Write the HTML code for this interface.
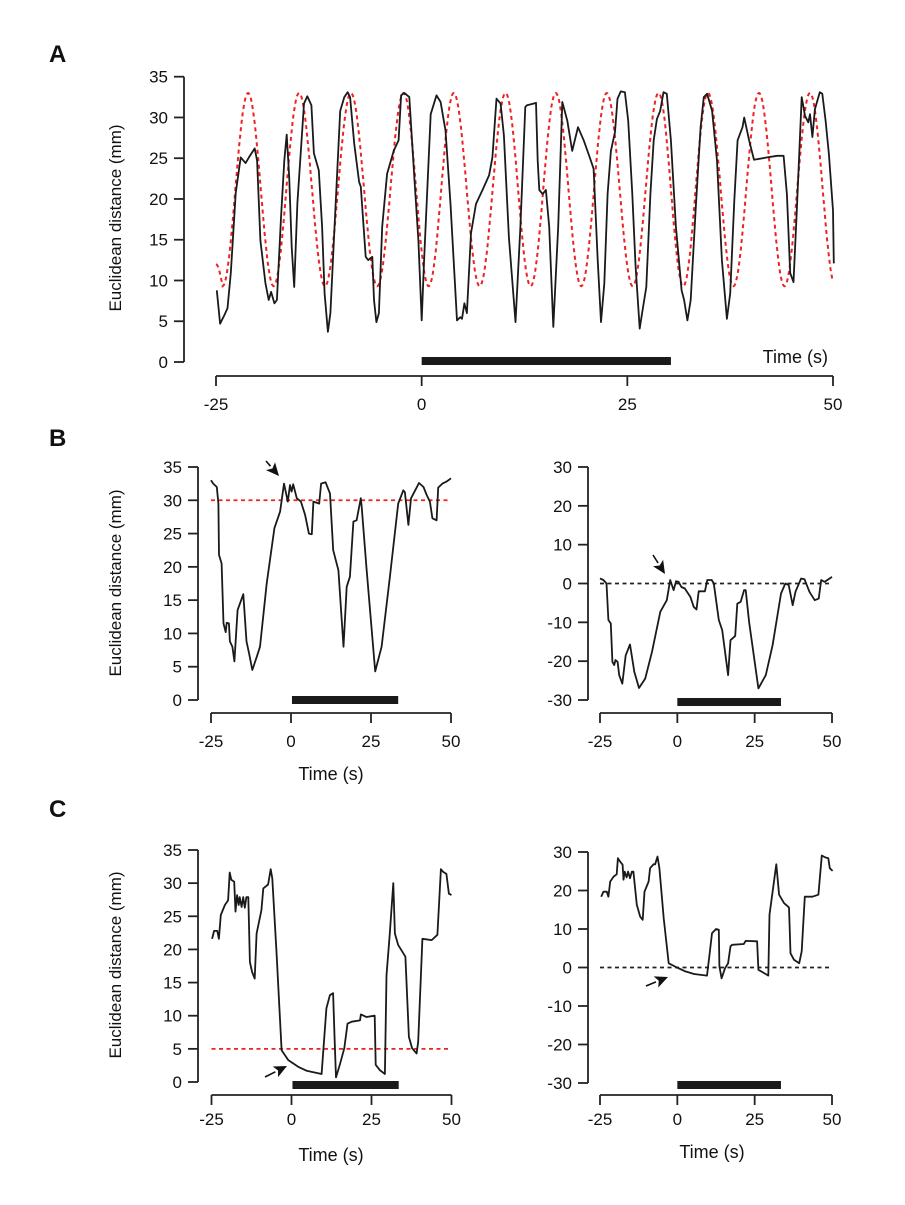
<!DOCTYPE html>
<html><head><meta charset="utf-8"><style>
body{margin:0;background:#fff}
svg text{font-family:"Liberation Sans",Arial,sans-serif;fill:#111}
</style></head><body>
<svg id="fig" width="905" height="1200" viewBox="0 0 905 1200" xmlns="http://www.w3.org/2000/svg">
<text x="49" y="62" font-size="24" font-weight="bold">A</text>
<text x="49" y="446" font-size="24" font-weight="bold">B</text>
<text x="49" y="817" font-size="24" font-weight="bold">C</text>
<text transform="translate(121,218) rotate(-90)" text-anchor="middle" font-size="17">Euclidean distance (mm)</text>
<text transform="translate(121,583) rotate(-90)" text-anchor="middle" font-size="17">Euclidean distance (mm)</text>
<text transform="translate(121,965) rotate(-90)" text-anchor="middle" font-size="17">Euclidean distance (mm)</text>
<text x="828" y="363" text-anchor="end" font-size="18">Time (s)</text>
<text x="331" y="780" text-anchor="middle" font-size="18">Time (s)</text>
<text x="331" y="1161" text-anchor="middle" font-size="18">Time (s)</text>
<text x="712" y="1158" text-anchor="middle" font-size="18">Time (s)</text>
</svg>
<script>
// ---- Panel A data ----
const aTimes = [-24.9,-24.5,-24.0,-23.6,-23.2,-22.6,-22.0,-21.4,-21.0,-20.3,-20.0,-19.6,-19.0,-18.6,-18.3,-17.9,-17.6,-17.1,-16.7,-16.4,-16.1,-15.8,-15.5,-15.1,-14.3,-13.9,-13.4,-13.1,-12.5,-12.1,-11.8,-11.4,-11.1,-10.6,-9.9,-9.4,-9.0,-8.7,-8.2,-7.6,-7.4,-6.8,-6.5,-6.0,-5.8,-5.5,-5.2,-4.8,-4.2,-3.4,-2.8,-2.5,-2.1,-1.5,-0.9,-0.4,0,0.3,1.1,1.8,2.3,2.9,3.5,4.3,4.7,4.9,5.2,5.5,6.0,6.6,7.4,8.2,8.6,9.1,9.6,10.0,10.6,11.4,12.0,12.6,12.8,13.6,13.9,14.1,14.3,14.7,15.1,15.5,16.0,16.6,17.1,17.7,18.3,19.0,19.7,20.5,20.9,21.4,21.8,22.2,22.6,23.0,23.5,23.8,24.2,24.7,25.1,25.6,26.0,26.5,26.8,27.3,27.8,28.2,28.6,29.0,29.4,29.8,30.3,30.9,31.6,31.9,32.3,32.7,33.3,33.9,34.3,34.7,35.3,35.9,36.5,37.1,37.5,38.0,38.4,39.0,39.2,39.8,40.4,42.0,43.2,44.0,44.4,44.8,45.2,45.6,46.2,46.6,47.0,47.2,47.5,47.8,48.4,48.7,49.1,49.5,50.0,50.1];
const aValues = [8.8,4.7,5.7,6.6,10.9,20.7,25.1,24.4,25.1,26.2,24.7,14.9,9.7,7.6,8.6,7.2,7.6,17.7,24.7,27.9,22.7,14.1,9.2,19.5,31.7,32.6,31.5,25.6,23.5,16.6,8.4,3.7,6.0,16.5,30.8,32.5,33.1,32.5,26.8,22.1,21.5,12.9,12.5,12.9,7.6,4.9,6.0,16.6,23.1,25.9,27.2,32.7,33.0,32.5,22.7,14.9,5.1,12.5,30.4,32.7,31.9,28.4,19.4,5.1,5.5,5.3,7.2,6.0,15.8,19.4,21.1,22.9,25.1,32.3,31.7,27.8,15.3,4.9,16.6,31.3,31.5,31.7,31.8,24.7,21.1,20.6,21.1,16.6,4.3,16.6,31.9,29.6,25.9,28.8,27.2,24.9,23.7,12.5,4.9,9.6,20.6,25.9,28.2,32.3,33.2,33.1,29.6,20.6,11.7,4.1,6.0,9.2,20.6,27.2,29.8,30.8,33.1,32.9,27.2,16.6,8.8,7.6,5.1,7.6,18.6,28.8,32.5,32.9,30.8,24.7,12.5,5.3,8.4,19.8,27.2,28.8,30.0,27.2,24.8,25.1,25.3,25.3,20.6,10.9,9.8,18.6,32.5,30.2,29.4,30.4,27.6,31.0,33.1,32.9,29.6,25.5,18.6,12.1];
const aTargetPeakTimes = [-21.1,-14.9,-8.6,-2.2,3.9,10.2,16.3,22.5,28.8,34.8,41.0,47.2];
const aTargetPeak = 33;
const aTargetTrough = 9.3;
const aTargetStart = 12;
const aStimulus = [0, 30.3];
// ---- Panel B left ----
const bLTimes = [-25,-24.3,-23.2,-22.7,-22.5,-21.7,-21.1,-20.4,-20.1,-19.4,-19.1,-18.3,-17.7,-16.7,-14.9,-13.9,-13.1,-12.1,-10.7,-9.7,-7.6,-5.2,-3.4,-2.2,-1.0,-0.3,0.2,0.7,1.8,3.1,4.4,5.6,6.5,7.0,8.8,9.4,10.8,12.2,13.2,14.8,16.4,17.4,18.4,19.5,20.5,21.8,22.1,23.6,26.3,28.3,30.9,33.5,35.1,35.6,36.7,37.5,38.8,40.0,41.4,42.4,43.4,44.2,45.5,46.0,47.3,48.6,50];
const bLValues = [33.0,32.5,32.0,29.5,21.8,20.5,11.5,10.2,11.6,11.5,8.8,8.0,5.8,13.5,15.9,8.8,7.0,4.5,6.5,8.0,17.5,25.8,28.3,32.5,29.8,32.3,31.3,32.4,30.3,29.8,27.8,25.0,24.9,29.8,29.5,32.5,32.7,31.0,22.5,19.5,8.0,17.0,18.5,26.8,27.0,30.3,29.0,19.8,4.3,8.0,18.5,29.5,31.5,31.2,26.3,30.3,31.5,32.6,32.0,30.8,29.8,27.3,27.0,31.9,32.5,32.8,33.3];
const bLThreshold = 30;
const bLStimulus = [0.3, 33.5];
// ---- Panel B right ----
const bRTimes = [-25,-23.9,-22.9,-22.3,-21.5,-21.0,-20.4,-20.0,-19.3,-18.8,-17.8,-16.7,-15.3,-13.9,-12.4,-10.4,-8.2,-5.5,-3.4,-2.3,-1.2,-0.4,0.4,1.3,2.4,4.2,5.3,6.2,6.9,8.9,9.7,11.1,11.8,13.4,14.5,16.4,17.2,18.7,19.4,20.5,21.6,22.1,23.2,26.2,28.6,30.8,33.5,34.9,36.0,37.3,38.2,40.0,41.1,42.7,44.4,45.7,46.5,47.6,50];
const bRValues = [1.3,0.9,0,-9.4,-10.3,-20.2,-21.0,-19.7,-20.2,-23.6,-25.8,-18.5,-15.7,-22.7,-26.9,-24.5,-17.6,-7.3,-4.3,0.9,-1.7,0.6,0.4,-0.9,-1.3,-3.4,-6.0,-6.7,-2.0,-2.0,0.9,0.9,0,-9.4,-12.0,-23.6,-14.6,-13.5,-5.2,-4.7,-1.7,-1.7,-9.9,-27.0,-23.6,-15.9,-2.6,0,-0.4,-5.6,-2.1,1.3,1.1,-2.1,-4.3,-3.9,0.9,0.4,1.7];
const bRThreshold = 0;
const bRStimulus = [0, 33.5];
// ---- Panel C left ----
const cLTimes = [-24.8,-24.2,-23.2,-22.7,-22.1,-20.8,-19.8,-19.3,-18.8,-17.9,-17.5,-17.0,-16.5,-16.2,-15.6,-15.1,-14.6,-14.1,-13.5,-13.0,-12.3,-11.5,-10.9,-9.4,-8.8,-7.3,-6.5,-6.0,-4.7,-3.1,-1.0,2.1,4.7,9.4,10.9,12.0,13.0,13.5,13.9,15.1,16.5,17.5,18.8,21.4,21.7,23.4,26.0,26.3,27.6,29.2,29.7,30.7,31.8,32.3,33.3,35.6,36.7,37.7,39.1,39.6,40.9,43.8,45.6,46.7,47.4,48.4,49.2,50];
const cLValues = [21.6,22.8,22.8,21.6,25.2,26.7,27.4,31.6,30.5,30.2,25.7,28.2,26.7,27.9,26.4,27.9,26.3,27.9,27.9,18.1,16.6,15.6,22.4,25.9,29.2,29.8,32.1,30.7,19.6,4.8,3.3,2.3,1.7,1.2,11.1,13.1,13.4,6.1,0.7,2.6,5.1,8.8,9.1,9.3,10.2,9.8,10.0,2.6,1.8,1.2,16.1,22.2,30.0,22.4,20.7,18.9,6.8,5.1,4.3,6.1,21.6,21.4,22.2,32.1,31.7,31.4,28.4,28.2];
const cLThreshold = 5;
const cLStimulus = [0.3, 33.5];
// ---- Panel C right ----
const cRTimes = [-24.6,-23.9,-22.8,-22.3,-21.7,-20.6,-19.6,-19.2,-18.5,-17.7,-17.4,-17.0,-16.4,-15.9,-15.3,-14.7,-14.2,-13.1,-12.0,-11.2,-10.6,-9.3,-8.8,-7.7,-7.2,-6.4,-5.8,-4.4,-2.8,-0.1,2.6,5.4,9.6,10.4,11.2,12.5,13.4,13.6,14.3,15.4,16.4,17.2,17.7,21.5,22.1,25.8,26.2,27.5,29.4,29.8,32.0,32.9,34.5,36.1,36.6,37.7,39.4,40.2,41.2,43.7,45.6,46.7,47.8,48.8,49.3,50.2];
const cRValues = [18.4,19.7,19.7,18.4,22.3,23.6,24.2,28.4,27.5,26.7,22.8,24.9,23.4,24.9,23.2,24.9,24.9,16.3,13.2,12.4,19.7,22.3,25.8,26.8,26.8,28.8,25.8,12.8,1.1,0,-1.0,-1.7,-2.1,3.3,8.9,10.0,9.8,0.3,-2.8,-0.2,1.1,5.5,5.9,6.1,6.9,6.8,-0.6,-1.2,-2.1,13.7,26.8,18.9,16.7,15.6,3.7,2.0,1.1,4.2,18.4,18.4,18.9,29.1,28.6,28.4,25.8,25.1];
const cRThreshold = 0;
const cRStimulus = [0, 33.5];

const NS = "http://www.w3.org/2000/svg";
const svg = document.getElementById("fig");
function mk(tag, attrs, parent) {
  const e = document.createElementNS(NS, tag);
  for (const k in attrs) e.setAttribute(k, attrs[k]);
  (parent || svg).appendChild(e);
  return e;
}
function makePanel(cfg) {
  const g = mk("g", {});
  
  
  const xs = t => cfg.x0 + (t - cfg.t0) * (cfg.x1 - cfg.x0) / (cfg.t1 - cfg.t0);
  const ys = v => cfg.yb + (v - cfg.vb) * (cfg.yt - cfg.yb) / (cfg.vt - cfg.vb);
  const ya = mk("line", {x1: cfg.yax, x2: cfg.yax, y1: ys(cfg.vb), y2: ys(cfg.vt), stroke: "#222", "stroke-width": 1.8}, g);
  
  
  cfg.yTicks.forEach(v => {
    mk("line", {x1: cfg.yax - 10, x2: cfg.yax, y1: ys(v), y2: ys(v), stroke: "#222", "stroke-width": 1.8}, g);
    const t = mk("text", {x: cfg.yax - 16, y: ys(v) + 6, "text-anchor": "end", "font-size": 17}, g);
    t.textContent = v;
    
    
  });
  const xa = mk("line", {x1: xs(cfg.t0), x2: xs(cfg.t1), y1: cfg.xay, y2: cfg.xay, stroke: "#222", "stroke-width": 1.8}, g);
  
  
  cfg.xTicks.forEach(t0 => {
    mk("line", {x1: xs(t0), x2: xs(t0), y1: cfg.xay, y2: cfg.xay + 10, stroke: "#222", "stroke-width": 1.8}, g);
    const t = mk("text", {x: xs(t0), y: cfg.xay + cfg.lblOff, "text-anchor": "middle", "font-size": 17}, g);
    t.textContent = t0;
    
    
  });
  const bar = mk("rect", {x: xs(cfg.stim[0]), width: xs(cfg.stim[1]) - xs(cfg.stim[0]), y: cfg.barY, height: 8, fill: "#1a1a1a"}, g);
  
  
  if (cfg.threshold !== undefined) {
    const th = mk("line", {x1: xs(-25), x2: xs(50), y1: ys(cfg.threshold), y2: ys(cfg.threshold), stroke: cfg.thColor, "stroke-width": 1.8, "stroke-dasharray": "4 3.5"}, g);
    
    
  }
  if (cfg.target) {
    const ext = [];
    const pk = cfg.target.peaks;
    ext.push([pk[0] - (pk[1] - pk[0]) / 2, cfg.target.trough]);
    pk.forEach((p, i) => {
      ext.push([p, cfg.target.peak]);
      const nxt = i < pk.length - 1 ? pk[i + 1] : p + (p - pk[i - 1]);
      ext.push([(p + nxt) / 2, cfg.target.trough]);
    });
    let d = "";
    for (let t = -25; t <= 50.001; t += 0.1) {
      let v;
      if (t < ext[0][0]) {
        const f = (t + 25) / (ext[0][0] + 25);
        v = cfg.target.start + (ext[0][1] - cfg.target.start) * (1 - Math.cos(f * Math.PI / 2));
      } else {
        let k = 0;
        while (k < ext.length - 2 && t > ext[k + 1][0]) k++;
        const a = ext[k], b = ext[k + 1];
        const f = Math.min(1, (t - a[0]) / (b[0] - a[0]));
        v = a[1] + (b[1] - a[1]) * (1 - Math.cos(f * Math.PI)) / 2;
      }
      d += (d ? "L" : "M") + xs(t).toFixed(1) + "," + ys(v).toFixed(1);
    }
    const tp = mk("path", {d: d, fill: "none", stroke: "#ee2222", "stroke-width": 2, "stroke-dasharray": "4 3.5"}, g);
    
    
  }
  let d = "";
  cfg.times.forEach((t, i) => { d += (i ? "L" : "M") + xs(t).toFixed(1) + "," + ys(cfg.values[i]).toFixed(1); });
  const tr = mk("path", {d: d, fill: "none", stroke: "#1a1a1a", "stroke-width": 1.8, "stroke-linejoin": "round"}, g);
  
  
  if (cfg.arrow) {
    const [tx, ty, px, py] = cfg.arrow;
    const ang = Math.atan2(py - ty, px - tx), L = 13, W = 6;
    const bx = px - L * Math.cos(ang), by = py - L * Math.sin(ang);
    const nx = -Math.sin(ang), ny = Math.cos(ang);
    mk("line", {x1: tx, y1: ty, x2: bx, y2: by, stroke: "#111", "stroke-width": 1.6}, g);
    const ah = mk("polygon", {points: `${px},${py} ${bx + nx * W},${by + ny * W} ${bx + 3 * Math.cos(ang)},${by + 3 * Math.sin(ang)} ${bx - nx * W},${by - ny * W}`, fill: "#111"}, g);
    
    
  }
}
makePanel({name: "panel-a", t0: -25, t1: 50, x0: 216, x1: 833, vb: 0, vt: 35, yb: 362, yt: 76.7,
  yax: 184, xay: 376, lblOff: 34, yTicks: [0,5,10,15,20,25,30,35], xTicks: [-25,0,25,50], barY: 357,
  stim: aStimulus, times: aTimes, values: aValues,
  target: {peaks: aTargetPeakTimes, peak: aTargetPeak, trough: aTargetTrough, start: aTargetStart}});
makePanel({name: "panel-b-left", t0: -25, t1: 50, x0: 211, x1: 451, vb: 0, vt: 35, yb: 700, yt: 467,
  yax: 198, xay: 713, lblOff: 34, yTicks: [0,5,10,15,20,25,30,35], xTicks: [-25,0,25,50], barY: 696,
  stim: bLStimulus, times: bLTimes, values: bLValues, threshold: bLThreshold, thColor: "#ee2222",
  arrow: [266, 461, 279, 476]});
makePanel({name: "panel-b-right", t0: -25, t1: 50, x0: 600, x1: 832, vb: -30, vt: 30, yb: 700, yt: 467,
  yax: 588, xay: 713, lblOff: 34, yTicks: [-30,-20,-10,0,10,20,30], xTicks: [-25,0,25,50], barY: 698,
  stim: bRStimulus, times: bRTimes, values: bRValues, threshold: bRThreshold, thColor: "#222",
  arrow: [653, 555, 665, 574]});
makePanel({name: "panel-c-left", t0: -25, t1: 50, x0: 211.5, x1: 451.5, vb: 0, vt: 35, yb: 1082, yt: 850,
  yax: 198, xay: 1095, lblOff: 30, yTicks: [0,5,10,15,20,25,30,35], xTicks: [-25,0,25,50], barY: 1081,
  stim: cLStimulus, times: cLTimes, values: cLValues, threshold: cLThreshold, thColor: "#ee2222",
  arrow: [265, 1077, 287, 1066]});
makePanel({name: "panel-c-right", t0: -25, t1: 50, x0: 600, x1: 832, vb: -30, vt: 30, yb: 1083, yt: 852,
  yax: 588, xay: 1095, lblOff: 30, yTicks: [-30,-20,-10,0,10,20,30], xTicks: [-25,0,25,50], barY: 1081,
  stim: cRStimulus, times: cRTimes, values: cRValues, threshold: cRThreshold, thColor: "#222",
  arrow: [646, 986, 668, 977]});
</script>
</body></html>
